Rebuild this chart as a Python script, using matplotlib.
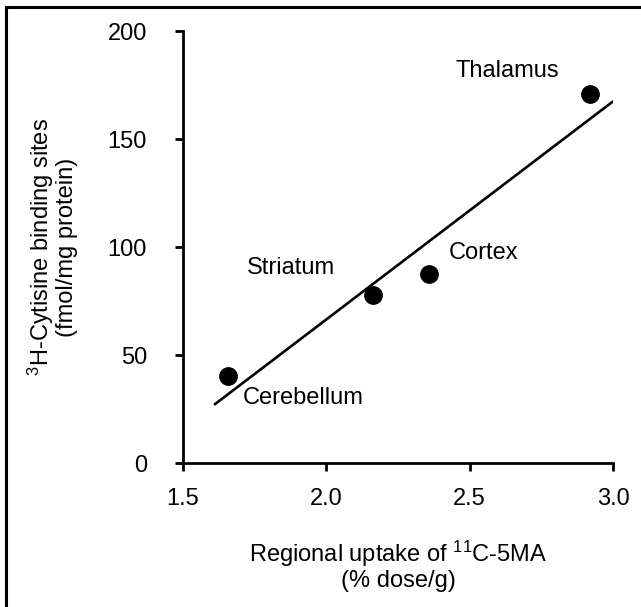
import matplotlib
matplotlib.use('Agg')
import matplotlib.pyplot as plt
from matplotlib.lines import Line2D

plt.rcParams['font.family'] = ['Liberation Sans', 'DejaVu Sans']
plt.rcParams['mathtext.fontset'] = 'custom'
plt.rcParams['mathtext.rm'] = 'Liberation Sans'
plt.rcParams['mathtext.default'] = 'regular'
plt.rcParams['font.size'] = 17

regions = ['Cerebellum', 'Striatum', 'Cortex', 'Thalamus']
uptake = [1.657, 2.163, 2.358, 2.92]
binding = [40.3, 77.8, 87.5, 170.8]
fit_x = [1.612, 2.997]
fit_y = [27.3, 167.1]

fig = plt.figure(figsize=(6.41, 6.07), dpi=100)
ax = fig.add_axes([0.2855, 0.2372, 0.6708, 0.7117])

ax.plot(fit_x, fit_y, color='black', lw=1.9)
ax.plot(uptake, binding, 'o', color='black', ms=12.5)

# label offsets next to each point
label_pos = {'Cerebellum': (1.709, 30.1), 'Striatum': (1.723, 90.3),
             'Cortex': (2.428, 97.2), 'Thalamus': (2.449, 181.5)}
for r in regions:
    ax.text(label_pos[r][0], label_pos[r][1], r, ha='left', va='center')

ax.set_xlim(1.5, 3.0)
ax.set_ylim(0, 200)
ax.set_xticks([1.5, 2.0, 2.5, 3.0])
ax.set_xticklabels(['1.5', '2.0', '2.5', '3.0'])
ax.set_yticks([0, 50, 100, 150, 200])
for s in ['top', 'right']:
    ax.spines[s].set_visible(False)
for s in ['left', 'bottom']:
    ax.spines[s].set_linewidth(2.0)
ax.tick_params(axis='both', direction='out', length=6, width=2.0)
ax.tick_params(axis='y', pad=20)
ax.tick_params(axis='x', pad=12)

ax.set_xlabel('Regional uptake of $^{11}$C-5MA\n(% dose/g)', labelpad=21, linespacing=1.05)
ax.set_ylabel('$^{3}$H-Cytisine binding sites\n(fmol/mg protein)', labelpad=21, linespacing=1.0)

# frame lines on left and top of the figure
fig.add_artist(Line2D([6 / 641, 6 / 641], [0, 1 - 7 / 607], transform=fig.transFigure, color='black', lw=2.2))
fig.add_artist(Line2D([6 / 641, 1], [1 - 7 / 607, 1 - 7 / 607], transform=fig.transFigure, color='black', lw=2.2))

fig.savefig('out.png', dpi=100)
